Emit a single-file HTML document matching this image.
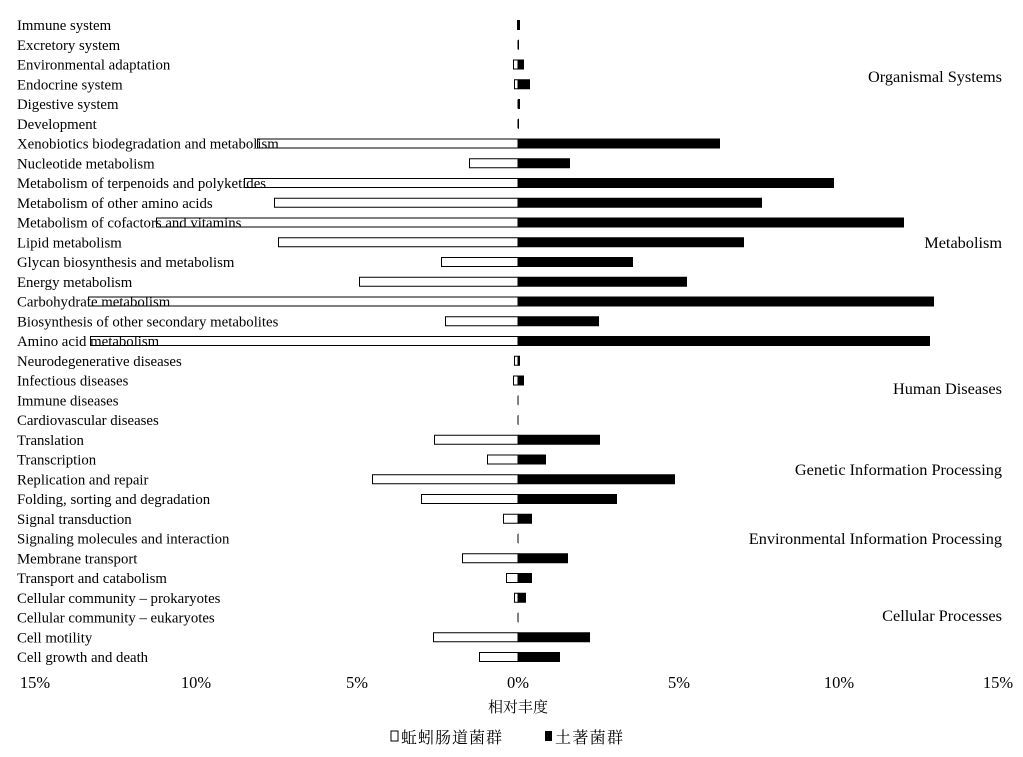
<!DOCTYPE html>
<html><head><meta charset="utf-8"><style>
body{margin:0;background:#fff}
svg text{font-family:"Liberation Serif","Noto Serif CJK SC",serif;fill:#000}
</style></head><body>
<svg width="1023" height="752" xmlns="http://www.w3.org/2000/svg">
<g font-size="14.8" id="rows"></g>
<g font-size="16.3" text-anchor="end">
<text x="1002" y="82">Organismal Systems</text>
<text x="1002" y="248">Metabolism</text>
<text x="1002" y="394">Human Diseases</text>
<text x="1002" y="475">Genetic Information Processing</text>
<text x="1002" y="544">Environmental Information Processing</text>
<text x="1002" y="621">Cellular Processes</text>
</g>
<g font-size="16.5" text-anchor="middle">
<text x="35" y="688">15%</text><text x="196" y="688">10%</text><text x="357" y="688">5%</text>
<text x="518" y="688">0%</text><text x="679" y="688">5%</text><text x="839" y="688">10%</text><text x="998" y="688">15%</text>
<text x="518" y="712" font-family="Noto Sans CJK SC,sans-serif" font-size="15">相对丰度</text>
</g>
<rect x="391" y="731" width="7" height="10" fill="#fff" stroke="#000" stroke-width="1"/>
<text x="401" y="743" font-size="16" font-family="Noto Sans CJK SC,sans-serif" textLength="101">蚯蚓肠道菌群</text>
<rect x="545" y="731" width="7" height="10" fill="#000"/>
<text x="555" y="743" font-size="16" font-family="Noto Sans CJK SC,sans-serif" textLength="68">土著菌群</text>
</svg>
<script>
const d=[["Immune system",517,520],["Excretory system",518,519],["Environmental adaptation",513,524],["Endocrine system",514,530],["Digestive system",518,520],["Development",518,519],["Xenobiotics biodegradation and metabolism",257,720],["Nucleotide metabolism",469,570],["Metabolism of terpenoids and polyketides",244,834],["Metabolism of other amino acids",274,762],["Metabolism of cofactors and vitamins",156,904],["Lipid metabolism",278,744],["Glycan biosynthesis and metabolism",441,633],["Energy metabolism",359,687],["Carbohydrate metabolism",88,934],["Biosynthesis of other secondary metabolites",445,599],["Amino acid metabolism",90,930],["Neurodegenerative diseases",514,520],["Infectious diseases",513,524],["Immune diseases",518,518.5],["Cardiovascular diseases",518,518.5],["Translation",434,600],["Transcription",487,546],["Replication and repair",372,675],["Folding, sorting and degradation",421,617],["Signal transduction",503,532],["Signaling molecules and interaction",518,518.5],["Membrane transport",462,568],["Transport and catabolism",506,532],["Cellular community – prokaryotes",514,526],["Cellular community – eukaryotes",518,518.5],["Cell motility",433,590],["Cell growth and death",479,560]];
let s="";
d.forEach((r,i)=>{const y=25+i*19.75;
s+=`<text x="17" y="${y+5}">${r[0]}</text>`;
if(r[1]<518)s+=`<rect x="${r[1]+0.5}" y="${y-4.5}" width="${518-r[1]-0.5}" height="9" fill="none" stroke="#000" stroke-width="1"/>`;
else s+=`<rect x="517.5" y="${y-4.5}" width="1" height="9" fill="#000"/>`;
if(r[2]>518)s+=`<rect x="518" y="${y-5}" width="${r[2]-518}" height="10" fill="#000"/>`;
});
document.getElementById("rows").innerHTML=s;
</script>
</body></html>
